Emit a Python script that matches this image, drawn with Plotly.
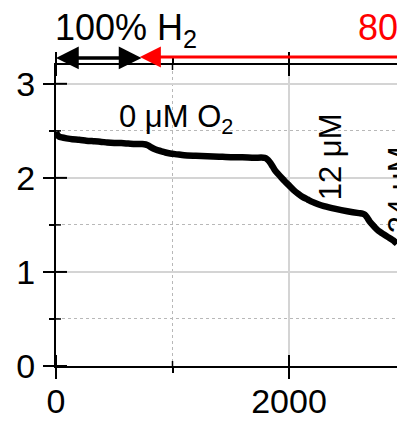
import plotly.graph_objects as go

# time (s) and signal values
time_s = [0, 10, 25, 50, 90, 140, 200, 260, 320, 380, 440, 500, 560, 620, 680, 740, 770,
          790, 810, 840, 870, 900, 940, 980, 1040, 1100, 1200, 1300, 1400, 1500, 1600, 1700,
          1780, 1800, 1820, 1840, 1860, 1880, 1900, 1930, 1960, 2000, 2040, 2080, 2120, 2160,
          2200, 2250, 2300, 2400, 2500, 2600, 2630, 2650, 2670, 2690, 2710, 2740, 2770,
          2800, 2850, 2900, 2927]
signal = [2.49, 2.46, 2.44, 2.43, 2.42, 2.41, 2.405, 2.395, 2.39, 2.385, 2.375, 2.37, 2.37,
          2.365, 2.36, 2.36, 2.355,
          2.345, 2.33, 2.31, 2.295, 2.285, 2.27, 2.26, 2.25, 2.24, 2.235, 2.23, 2.225, 2.22,
          2.22, 2.215,
          2.215, 2.21, 2.19, 2.16, 2.12, 2.08, 2.05, 2.01, 1.97, 1.92, 1.87, 1.83, 1.795, 1.77,
          1.745, 1.72, 1.70, 1.67, 1.645, 1.625, 1.62, 1.61, 1.58, 1.54, 1.51, 1.47, 1.435,
          1.41, 1.37, 1.33, 1.30]

x_range = [0, 2927]
y_range = [0, 3.2]
x_major_ticks = [0, 2000]
x_minor_ticks = [1000]
y_major_ticks = [0, 1, 2, 3]
y_minor_ticks = [0.5, 1.5, 2.5]

FONT = "Liberation Sans, Arial, sans-serif"

fig = go.Figure()
fig.add_trace(go.Scatter(x=time_s, y=signal, mode="lines",
                         line=dict(color="black", width=6.5, shape="spline", smoothing=0.6),
                         showlegend=False, hoverinfo="skip"))

common_axis = dict(showline=True, linecolor="black", linewidth=2, zeroline=False,
                   tickcolor="black", tickwidth=2, automargin=False)

fig.update_layout(
    width=397, height=421,
    margin=dict(l=56, r=0, t=65, b=55),
    plot_bgcolor="white", paper_bgcolor="white",
    font=dict(family=FONT, color="black"),
    xaxis=dict(range=x_range, tickvals=x_major_ticks, ticks="outside", ticklen=11,
               mirror="allticks", showgrid=True, gridcolor="#d4d4d4", gridwidth=1.5,
               tickfont=dict(size=34), ticklabelstandoff=-7,
               minor=dict(tickvals=x_minor_ticks, ticks="outside", ticklen=5, tickwidth=1.5,
                          tickcolor="black", showgrid=True, gridcolor="#b8b8b8",
                          griddash="dot", gridwidth=1),
               **common_axis),
    yaxis=dict(range=y_range, tickvals=y_major_ticks, ticks="outside", ticklen=11,
               mirror=False, showgrid=True, gridcolor="#d4d4d4", gridwidth=1.5,
               tickfont=dict(size=34), ticklabelstandoff=1,
               minor=dict(tickvals=y_minor_ticks, ticks="outside", ticklen=5, tickwidth=1.5,
                          tickcolor="black", showgrid=True, gridcolor="#b8b8b8",
                          griddash="dot", gridwidth=1),
               **common_axis),
)

# inner halves of the crossing ticks (bottom, top and left axes)
for vals, ln, w in [(x_major_ticks, 11, 2), (x_minor_ticks, 5, 1.5)]:
    for v in vals:
        fig.add_shape(type="line", xref="x", yref="paper", ysizemode="pixel", yanchor=0,
                      x0=v, x1=v, y0=0, y1=ln, line=dict(color="black", width=w))
        fig.add_shape(type="line", xref="x", yref="paper", ysizemode="pixel", yanchor=1,
                      x0=v, x1=v, y0=0, y1=-ln, line=dict(color="black", width=w))
for vals, ln, w in [(y_major_ticks, 11, 2), (y_minor_ticks, 5, 1.5)]:
    for v in vals:
        fig.add_shape(type="line", xref="paper", yref="y", xsizemode="pixel", xanchor=0,
                      x0=0, x1=ln, y0=v, y1=v, line=dict(color="black", width=w))

# arrows above the plot
fig.add_annotation(x=0, y=1.0233, xref="x", yref="paper", ax=747, ay=0,
                   axref="x", ayref="pixel", showarrow=True, arrowhead=2,
                   startarrowhead=2, arrowside="end+start", arrowwidth=3.5,
                   arrowsize=1.3, startarrowsize=1.3, arrowcolor="black", text="",
                   standoff=0, startstandoff=0)
fig.add_annotation(x=720, y=1.0266, xref="x", yref="paper", ax=3200, ay=0,
                   axref="x", ayref="pixel", showarrow=True, arrowhead=2,
                   arrowwidth=3, arrowsize=1.4, arrowcolor="red", text="", standoff=0)

# labels
fig.add_annotation(x=-0.008, y=1.115, xref="paper", yref="paper", xanchor="left",
                   yanchor="middle", showarrow=False, text="100% H<sub>2</sub>",
                   font=dict(size=36, color="black"))
fig.add_annotation(x=0.88, y=1.115, xref="paper", yref="paper", xanchor="left",
                   yanchor="middle", showarrow=False, text="80% H<sub>2</sub>",
                   font=dict(size=36, color="red"))
fig.add_annotation(x=0.18, y=0.82, xref="paper", yref="paper", xanchor="left",
                   yanchor="middle", showarrow=False, text="0 μM O<sub>2</sub>",
                   font=dict(size=31, color="black"))
fig.add_annotation(x=0.804, y=0.694, xref="paper", yref="paper", xanchor="center",
                   yanchor="middle", showarrow=False, text="12 μM", textangle=-90,
                   font=dict(size=31, color="black"))
fig.add_annotation(x=1.01, y=0.585, xref="paper", yref="paper", xanchor="center",
                   yanchor="middle", showarrow=False, text="24 μM", textangle=-90,
                   font=dict(size=31, color="black"))

fig.write_html("out.html")
